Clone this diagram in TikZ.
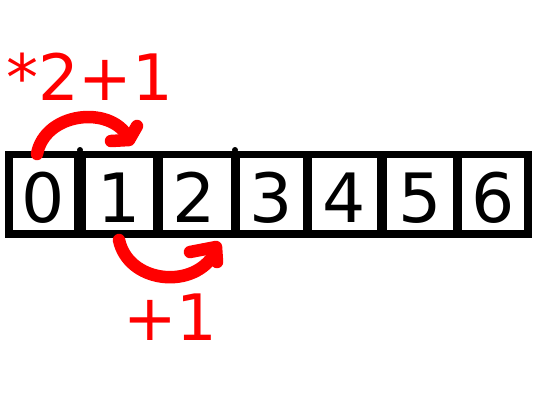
\documentclass[tikz,border=0pt]{standalone}
\usepackage{fontspec}
\setmainfont{DejaVu Sans}
\begin{document}
\begin{tikzpicture}[x=1pt,y=-1pt,
  cellbox/.style={fill=white,draw=none,inner sep=0pt,minimum height=72pt},
  digit/.style={anchor=base,inner sep=0pt,font=\fontsize{68}{68}\selectfont},
  redlabel/.style={anchor=base west,inner sep=0pt,text=red,font=\fontsize{64}{64}\selectfont},
  redstroke/.style={draw=red,line width=12.5pt,line cap=round,line join=round}]
\useasboundingbox (0,0) rectangle (540,400);
% black frame
\fill[black] (5,151) rectangle (532,238);
\fill[black] (80,150) circle (3);
\fill[black] (235,150) circle (3);
% cells
\node[cellbox,minimum width=61pt] (c0) at (43.5,194) {};
\node[cellbox,minimum width=67pt] (c1) at (119.5,194) {};
\node[cellbox,minimum width=68pt] (c2) at (197,194) {};
\node[cellbox,minimum width=63pt] (c3) at (271.5,194) {};
\node[cellbox,minimum width=65pt] (c4) at (344.5,194) {};
\node[cellbox,minimum width=66pt] (c5) at (420,194) {};
\node[cellbox,minimum width=62pt] (c6) at (493,194) {};
% digits
\node[digit] (d0) at (43.5,222) {0};
\node[digit] (d1) at (119.5,222) {1};
\node[digit] (d2) at (194,222) {2};
\node[digit] (d3) at (271.5,222) {3};
\node[digit] (d4) at (344.5,222) {4};
\node[digit] (d5) at (420,222) {5};
\node[digit] (d6) at (493,222) {6};
% labels
\node[redlabel] (t1) at (6,100) {*2+1};
\node[redlabel] (t2) at (123,340) {+1};
% top arrow
\coordinate (a1s) at (37,154);
\coordinate (a1e) at (128,137);
\coordinate (a1b) at (111,141);
\coordinate (a1v) at (129,140);
\coordinate (a1c) at (137,126);
\draw[redstroke] (a1s) .. controls (45,112) and (110,105) .. (a1e);
\draw[redstroke] (a1b) -- (a1v) -- (a1c);
% bottom arrow
\coordinate (a2s) at (119,240);
\coordinate (a2e) at (213,256);
\coordinate (a2b) at (190,252);
\coordinate (a2v) at (216,247);
\coordinate (a2c) at (217,262);
\draw[redstroke] (a2s) .. controls (128,282) and (190,290) .. (a2e);
\draw[redstroke] (a2b) -- (a2v) -- (a2c);
\end{tikzpicture}
\end{document}
